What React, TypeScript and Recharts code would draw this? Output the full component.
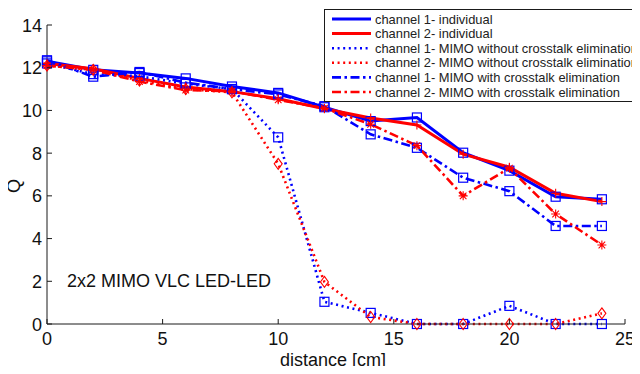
import React from 'react';
import { LineChart, Line, XAxis, YAxis } from 'recharts';

const distance = [0, 2, 4, 6, 8, 10, 12, 14, 16, 18, 20, 22, 24];
const ch1Individual = [12.3, 11.9, 11.75, 11.5, 11.12, 10.82, 10.15, 9.5, 9.67, 8.02, 7.18, 5.96, 5.84];
const ch2Individual = [12.2, 11.95, 11.5, 11.1, 10.88, 10.55, 10.08, 9.65, 9.32, 7.95, 7.34, 6.12, 5.73];
const ch1NoCE = [12.2, 11.7, 11.6, 11.25, 11.0, 8.74, 1.04, 0.52, 0.0, 0.0, 0.85, 0.0, 0.0];
const ch2NoCE = [12.1, 11.9, 11.4, 11.0, 10.85, 7.5, 1.97, 0.33, 0.0, 0.0, 0.0, 0.0, 0.5];
const ch1CE = [12.35, 11.58, 11.8, 11.3, 11.0, 10.75, 10.2, 8.88, 8.25, 6.85, 6.22, 4.59, 4.59];
const ch2CE = [12.1, 11.9, 11.35, 10.95, 10.9, 10.5, 10.1, 9.35, 8.35, 6.0, 7.3, 5.15, 3.7];

const xTicks = [0, 5, 10, 15, 20, 25];
const yTicks = [0, 2, 4, 6, 8, 10, 12, 14];

const legendLabels = [
  'channel 1- individual',
  'channel 2- individual',
  'channel 1- MIMO without crosstalk elimination',
  'channel 2- MIMO without crosstalk elimination',
  'channel 1- MIMO with crosstalk elimination',
  'channel 2- MIMO with crosstalk elimination',
];

const BLUE = '#0000ff';
const RED = '#ff0000';
const AXIS = '#1a1a1a';
const FONT = '"Liberation Sans", Arial, Helvetica, sans-serif';

const rows = distance.map((d, i) => ({
  x: d,
  c1i: ch1Individual[i],
  c2i: ch2Individual[i],
  c1n: ch1NoCE[i],
  c2n: ch2NoCE[i],
  c1c: ch1CE[i],
  c2c: ch2CE[i],
}));

const DOTTED = '2 3.6';
const DASHDOT = '9 3.5 2.5 3.5';

const series = [
  { key: 'c1i', color: BLUE, dash: undefined as string | undefined, width: 3, marker: 'square' },
  { key: 'c2i', color: RED, dash: undefined as string | undefined, width: 3, marker: 'plus' },
  { key: 'c1n', color: BLUE, dash: DOTTED, width: 2.6, marker: 'square' },
  { key: 'c2n', color: RED, dash: DOTTED, width: 2.6, marker: 'diamond' },
  { key: 'c1c', color: BLUE, dash: DASHDOT, width: 2.6, marker: 'square' },
  { key: 'c2c', color: RED, dash: DASHDOT, width: 2.6, marker: 'star' },
];

const makeDot = (marker: string, color: string) => (props: any) => {
  const { cx, cy, index } = props;
  if (cx == null || cy == null) return <g key={index} />;
  const s = 4.5;
  if (marker === 'square') {
    return (
      <rect key={index} x={cx - s} y={cy - s} width={2 * s} height={2 * s} fill="none" stroke={color} strokeWidth={1.2} />
    );
  }
  if (marker === 'diamond') {
    return (
      <path key={index} d={`M${cx},${cy - 5.5} L${cx + 4},${cy} L${cx},${cy + 5.5} L${cx - 4},${cy} Z`} fill="none" stroke={color} strokeWidth={1.1} />
    );
  }
  if (marker === 'plus') {
    return (
      <path key={index} d={`M${cx - s},${cy} L${cx + s},${cy} M${cx},${cy - s} L${cx},${cy + s}`} stroke={color} strokeWidth={1.1} fill="none" />
    );
  }
  const d = 3.3;
  return (
    <path key={index} d={`M${cx - s},${cy} L${cx + s},${cy} M${cx},${cy - s} L${cx},${cy + s} M${cx - d},${cy - d} L${cx + d},${cy + d} M${cx - d},${cy + d} L${cx + d},${cy - d}`} stroke={color} strokeWidth={1.1} fill="none" />
  );
};

const BottomTick = (p: any) => (
  <g>
    <line x1={p.x} x2={p.x} y1={p.y} y2={p.y - 5} stroke={AXIS} strokeWidth={1} />
    <text x={p.x} y={p.y + 21} textAnchor="middle" fontSize={18} fill="#111" fontFamily={FONT}>
      {p.payload.value}
    </text>
  </g>
);

const LeftTick = (p: any) => (
  <g>
    <line x1={p.x} x2={p.x + 5} y1={p.y} y2={p.y} stroke={AXIS} strokeWidth={1} />
    <text x={p.x - 5} y={p.y + 6.5} textAnchor="end" fontSize={18} fill="#111" fontFamily={FONT}>
      {p.payload.value}
    </text>
  </g>
);

const TopTick = (p: any) => (
  <line x1={p.x} x2={p.x} y1={p.y} y2={p.y + 5} stroke={AXIS} strokeWidth={1} />
);

const RightTick = (p: any) => (
  <line x1={p.x} x2={p.x - 5} y1={p.y} y2={p.y} stroke={AXIS} strokeWidth={1} />
);

const Legend = () => (
  <svg width={320} height={95} style={{ position: 'absolute', left: 324, top: 9 }}>
    <rect x={0.5} y={0.5} width={330} height={92} fill="#fff" stroke={AXIS} strokeWidth={1} />
    {series.map((s, i) => {
      const y = 10 + i * 14.6;
      return (
        <g key={s.key}>
          <line x1={8} x2={47} y1={y} y2={y} stroke={s.color} strokeWidth={s.width} strokeDasharray={s.dash} />
          <text x={51} y={y + 4.6} fontSize={12.9} fill="#222" fontFamily={FONT}>
            {legendLabels[i]}
          </text>
        </g>
      );
    })}
  </svg>
);

export default function App() {
  return (
    <div style={{ position: 'relative', width: 640, height: 374, margin: -8, overflow: 'hidden', background: '#fff', fontFamily: FONT }}>
      <LineChart width={640} height={374} data={rows} margin={{ top: 25, right: 15, left: 0, bottom: 0 }}>
        <XAxis
          dataKey="x"
          type="number"
          domain={[0, 25]}
          ticks={xTicks}
          height={50}
          tickSize={0}
          tickMargin={0}
          tickLine={false}
          axisLine={{ stroke: AXIS, strokeWidth: 1 }}
          tick={BottomTick}
          interval={0}
        />
        <XAxis
          xAxisId="top"
          orientation="top"
          dataKey="x"
          type="number"
          domain={[0, 25]}
          ticks={xTicks}
          height={0}
          tickSize={0}
          tickMargin={0}
          tickLine={false}
          axisLine={{ stroke: AXIS, strokeWidth: 1 }}
          tick={TopTick}
          interval={0}
        />
        <YAxis
          type="number"
          domain={[0, 14]}
          ticks={yTicks}
          width={47}
          tickSize={0}
          tickMargin={0}
          tickLine={false}
          axisLine={{ stroke: AXIS, strokeWidth: 1 }}
          tick={LeftTick}
          interval={0}
        />
        <YAxis
          yAxisId="right"
          orientation="right"
          type="number"
          domain={[0, 14]}
          ticks={yTicks}
          width={0}
          tickSize={0}
          tickMargin={0}
          tickLine={false}
          axisLine={{ stroke: AXIS, strokeWidth: 1 }}
          tick={RightTick}
          interval={0}
        />
        {series.map((s) => (
          <Line
            key={s.key}
            dataKey={s.key}
            type="linear"
            stroke={s.color}
            strokeWidth={s.width}
            strokeDasharray={s.dash}
            dot={makeDot(s.marker, s.color)}
            activeDot={false}
            isAnimationActive={false}
          />
        ))}
      </LineChart>
      <Legend />
      <div style={{ position: 'absolute', left: 67, top: 270, fontSize: 18, color: '#111', whiteSpace: 'nowrap', lineHeight: '22px' }}>
        2x2 MIMO VLC LED-LED
      </div>
      <div style={{ position: 'absolute', left: 280, top: 349, fontSize: 18, color: '#111', whiteSpace: 'nowrap', lineHeight: '22px' }}>
        distance [cm]
      </div>
      <div style={{ position: 'absolute', left: 3, top: 175, fontSize: 18, color: '#111', lineHeight: '22px', transform: 'rotate(-90deg)', width: 22, textAlign: 'center' }}>
        Q
      </div>
    </div>
  );
}
